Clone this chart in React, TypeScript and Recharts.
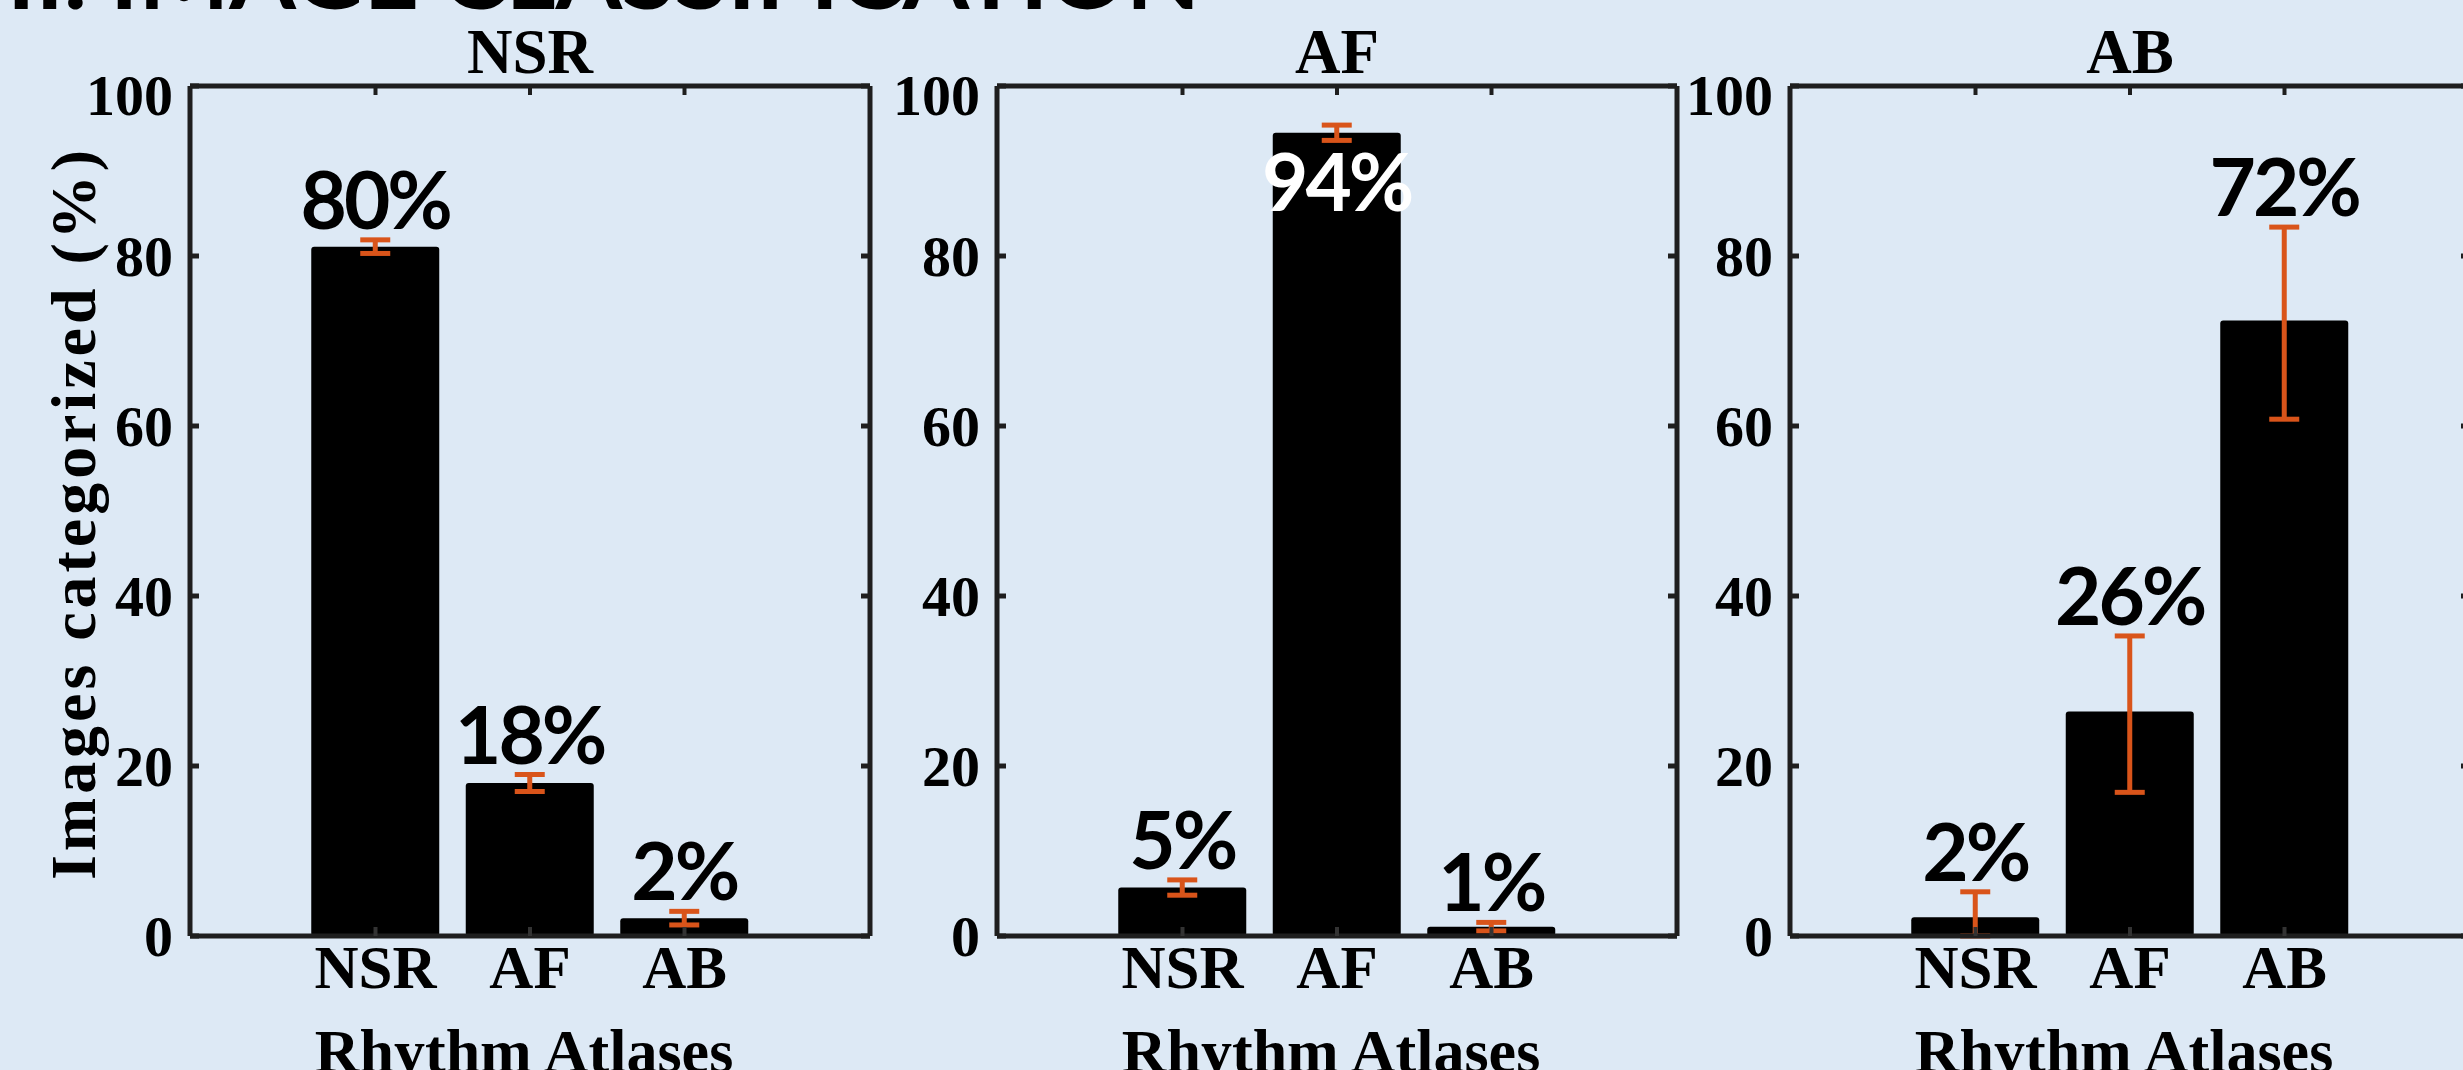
import React from 'react';
import { BarChart, Bar, XAxis, YAxis, ErrorBar, LabelList } from 'recharts';

// categories shared by the three panels
const ATLASES = ['NSR', 'AF', 'AB'];
const Y_TICKS = [0, 20, 40, 60, 80, 100];

// NSR images
const NSR_VALUES = [81.1, 18.0, 2.1];
const NSR_ERRORS = [[0.8, 0.8], [1.0, 1.0], [0.8, 0.8]];
const NSR_LABELS = ['80%', '18%', '2%'];

// AF images
const AF_VALUES = [5.7, 94.5, 1.1];
const AF_ERRORS = [[0.9, 0.9], [0.9, 0.9], [0.5, 0.5]];
const AF_LABELS = ['5%', '94%', '1%'];

// AB images
const AB_VALUES = [2.2, 26.4, 72.4];
const AB_ERRORS = [[2.2, 3.0], [9.5, 8.9], [11.6, 11.0]];
const AB_LABELS = ['2%', '26%', '72%'];

const PAGE_W = 2463;
const PAGE_H = 1070;
const BOX_TOP = 86;
const BOX_BOTTOM = 936;
const BOX_W = 680;
const BAND = 154.5;
const PAD = (BOX_W - 3 * BAND) / 2;

// axis sizes reserved inside each chart
const X_H = 40;
const TOP_H = 10;
const Y_W = 40;
const R_W = 10;

const BG = '#DDE9F5';
const AXIS = '#1e1e1e';
const ORANGE = '#D9541A';
const SERIF = '"Liberation Serif", "Times New Roman", serif';
const SANS = 'Lato, "Open Sans", sans-serif';

interface PanelProps {
  title: string;
  values: number[];
  errors: number[][];
  labels: string[];
  boxLeft: number;
  showYLabel?: boolean;
}

const Panel: React.FC<PanelProps> = ({ title, values, errors, labels, boxLeft, showYLabel }) => {
  const data = ATLASES.map((name, i) => ({ name, value: values[i], err: errors[i], label: labels[i] }));
  const width = boxLeft + BOX_W + R_W + 10;

  const YTick = (p: any) => {
    const y = p.y;
    const top = p.payload.value === 100;
    return (
      <g>
        <text x={boxLeft - 17} y={y + (top ? 9 : 0)} textAnchor="end" dominantBaseline="central"
          fontFamily={SERIF} fontWeight="bold" fontSize={58} fill="#000">{p.payload.value}</text>
        <line x1={boxLeft} x2={boxLeft + 9} y1={y} y2={y} stroke={AXIS} strokeWidth={5} />
        <line x1={boxLeft + BOX_W - 9} x2={boxLeft + BOX_W} y1={y} y2={y} stroke={AXIS} strokeWidth={5} />
      </g>
    );
  };

  const XTick = (p: any) => {
    const x = p.x;
    return (
      <g>
        <text x={x} y={BOX_BOTTOM + 52} textAnchor="middle"
          fontFamily={SERIF} fontWeight="bold" fontSize={61} fill="#000">{p.payload.value}</text>
        <line x1={x} x2={x} y1={BOX_BOTTOM} y2={BOX_BOTTOM - 9} stroke="#333" strokeWidth={4} />
        <line x1={x} x2={x} y1={BOX_TOP} y2={BOX_TOP + 9} stroke={AXIS} strokeWidth={4} />
      </g>
    );
  };

  const renderLabel = (p: any) => {
    const { x, y, width: w, height: h, index } = p;
    const i = typeof index === 'number' ? index : 0;
    const [, hi] = errors[i];
    const perUnit = h / values[i];
    const errTop = y - hi * perUnit;
    const inside = errTop - 11 - 58 < BOX_TOP;
    return (
      <text x={x + w / 2} y={inside ? y + 78 : errTop - 11} textAnchor="middle"
        fontFamily={SANS} fontWeight="bold" fontSize={80} letterSpacing={-3}
        fill={inside ? '#fff' : '#000'}>{labels[i]}</text>
    );
  };

  return (
    <div style={{ position: 'absolute', left: 0, top: 0 }}>
      <BarChart width={width} height={PAGE_H} data={data}
        margin={{ top: BOX_TOP - TOP_H, bottom: PAGE_H - BOX_BOTTOM - X_H, left: boxLeft - Y_W, right: 10 }}>
        <XAxis dataKey="name" type="category" height={X_H} padding={{ left: PAD, right: PAD }}
          axisLine={{ stroke: AXIS, strokeWidth: 5 }} tickLine={false}
          tick={XTick} interval={0}
          label={{
            position: 'bottom',
            content: () => (
              <text x={boxLeft + BOX_W / 2 - 6} y={1072} textAnchor="middle"
                fontFamily={SERIF} fontWeight="bold" fontSize={62} fill="#000">Rhythm Atlases</text>
            ),
          }} />
        <XAxis xAxisId="top" dataKey="name" type="category" orientation="top" height={TOP_H}
          padding={{ left: PAD, right: PAD }}
          axisLine={{ stroke: AXIS, strokeWidth: 5 }} tickLine={false} tick={false}
          label={{
            position: 'top',
            content: () => (
              <text x={boxLeft + BOX_W / 2} y={73} textAnchor="middle"
                fontFamily={SERIF} fontWeight="bold" fontSize={63} fill="#000">{title}</text>
            ),
          }} />
        <YAxis domain={[0, 100]} ticks={Y_TICKS} width={Y_W} allowDataOverflow
          axisLine={{ stroke: AXIS, strokeWidth: 5 }} tickLine={false}
          tick={YTick} interval={0}
          label={showYLabel ? {
            position: 'left',
            content: () => (
              <text x={95} y={515} transform="rotate(-90, 95, 515)" textAnchor="middle"
                fontFamily={SERIF} fontWeight="bold" fontSize={64} fill="#000"
                textLength={730} lengthAdjust="spacing">Images categorized (%)</text>
            ),
          } : undefined} />
        <YAxis yAxisId="right" orientation="right" domain={[0, 100]} width={R_W}
          axisLine={{ stroke: AXIS, strokeWidth: 5 }} tickLine={false} tick={false} />
        <Bar dataKey="value" fill="#000" barSize={128} radius={3} isAnimationActive={false}>
          <ErrorBar dataKey="err" direction="y" width={15} stroke={ORANGE} strokeWidth={5} />
          <LabelList dataKey="label" content={renderLabel} />
        </Bar>
      </BarChart>
    </div>
  );
};

export default function App() {
  return (
    <div style={{ position: 'relative', width: PAGE_W, height: PAGE_H, background: BG, overflow: 'hidden' }}>
      <style>{'body{margin:0}'}</style>
      <svg width={PAGE_W} height={PAGE_H} style={{ position: 'absolute', left: 0, top: 0 }}>
        <text x={7} y={9} fontFamily={SANS} fontWeight="bold" fontSize={90} fill="#000"
          textLength={1193} lengthAdjust="spacingAndGlyphs">II. IMAGE CLASSIFICATION</text>
      </svg>
      <Panel title="NSR" values={NSR_VALUES} errors={NSR_ERRORS} labels={NSR_LABELS} boxLeft={190} showYLabel />
      <Panel title="AF" values={AF_VALUES} errors={AF_ERRORS} labels={AF_LABELS} boxLeft={997} />
      <Panel title="AB" values={AB_VALUES} errors={AB_ERRORS} labels={AB_LABELS} boxLeft={1790} />
    </div>
  );
}
